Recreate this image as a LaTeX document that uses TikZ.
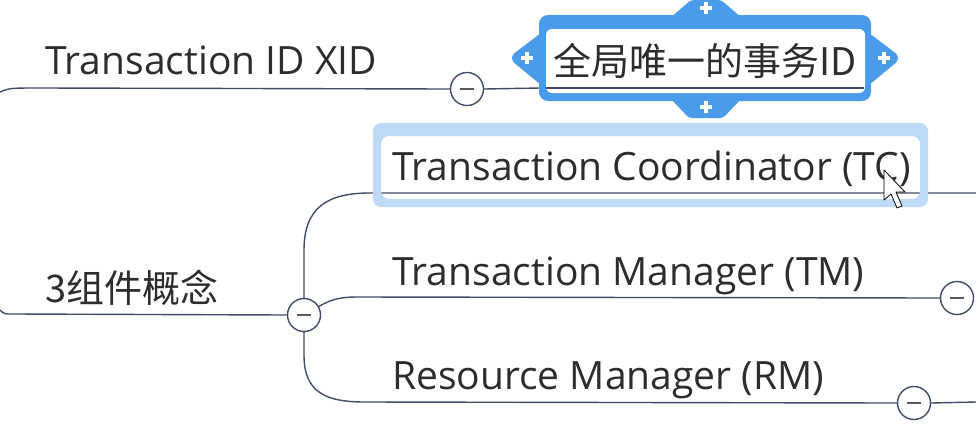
\documentclass[tikz,border=0pt]{standalone}
\usepackage{fontspec}
\setmainfont{Open Sans}
\newfontfamily\cjk{Noto Sans CJK SC}
\definecolor{linec}{RGB}{66,76,104}
\definecolor{selblue}{RGB}{74,155,234}
\definecolor{hlblue}{RGB}{190,218,246}
\definecolor{txt}{RGB}{45,45,45}
\definecolor{minusc}{RGB}{90,90,90}
\begin{document}
\begin{tikzpicture}[x=1pt,y=-1pt,
  lbl/.style={anchor=base west, inner sep=0pt, text=txt, font=\fontsize{39}{42}\selectfont},
  cjklbl/.style={anchor=base west, inner sep=0pt, text=txt, font=\fontsize{38}{41}\cjk},
  conn/.style={draw=linec, line width=1.4pt},
  fold/.style={circle, draw=linec, fill=white, line width=1.4pt, minimum size=33pt, inner sep=0pt,
    path picture={\draw[line width=2.2pt, minusc] ([xshift=-7pt]path picture bounding box.center) -- ([xshift=7pt]path picture bounding box.center);}},
  plusmark/.style={white, line width=3.6pt}
]
\useasboundingbox (0,0) rectangle (976,424);
\fill[white] (0,0) rectangle (976,424);

% collapse circles
\node[fold] (c1) at (467,89) {};
\node[fold] (c2) at (304,315) {};
\node[fold] (c3) at (957,298) {};
\node[fold] (c4) at (914,403) {};
\coordinate (selin) at (540,88);
\coordinate (tcend) at (976,193);
\coordinate (rmend) at (976,402);

% connectors
\draw[conn] (0,92) .. controls (10,88) .. (40,88) -- (c1.west);
\draw[conn] (c1.east) -- (selin);
\draw[conn] (0,310) .. controls (4,314) .. (14,314) -- (c2.west);
\draw[conn] (c2.north) -- (304,250) .. controls (304,207) and (328,193) .. (370,193) -- (tcend);
\draw[conn] (c2.30) .. controls (332,299) and (340,297) .. (358,297) -- (c3.west);
\draw[conn] (c2.south) -- (304,355) .. controls (304,392) and (325,402) .. (365,402) -- (c4.west);
\draw[conn] (c4.east) -- (rmend);

% highlighted TC box
\fill[hlblue, rounded corners=8pt, even odd rule] (373,123) rectangle (928,207) (381,136) rectangle (920,199);

% selected node frame
\fill[selblue, rounded corners=9pt] (539,15) rectangle (871,101);
\fill[selblue, rounded corners=3pt] (670,18) -- (691,0) -- (721,0) -- (742,18) -- cycle;
\fill[selblue, rounded corners=3pt] (670,98) -- (689,118) -- (723,118) -- (742,98) -- cycle;
\fill[selblue, rounded corners=3pt] (541,33) -- (512,55) -- (512,61) -- (541,85) -- cycle;
\fill[selblue, rounded corners=3pt] (869,33) -- (898,55) -- (898,61) -- (869,85) -- cycle;
\fill[white, rounded corners=6pt] (546,29) rectangle (865,93);
\draw[conn] (546,88) -- (864,88);
\foreach \px/\py in {527/58, 884/58, 706/8, 706/107}
  \draw[plusmark] (\px-6,\py) -- (\px+6,\py) (\px,\py-6) -- (\px,\py+6);

% texts
\node[lbl] (xid) at (45,74) {Transaction ID XID};
\node[cjklbl] (sel) at (553,75) {全局唯一的事务ID};
\node[lbl] (tc) at (392,180) {Transaction Coordinator (TC)};
\node[lbl] (tm) at (392,285) {Transaction Manager (TM)};
\node[lbl] (rm) at (392,389) {Resource Manager (RM)};
\node[cjklbl] (cmp) at (45,302) {3组件概念};

% mouse cursor
\draw[black, fill=white, line width=0.8pt, line join=round]
  (884,170) -- (884,200) -- (891,194) -- (897,208) -- (902,206) -- (896,192) -- (905,192) -- cycle;
\end{tikzpicture}
\end{document}
